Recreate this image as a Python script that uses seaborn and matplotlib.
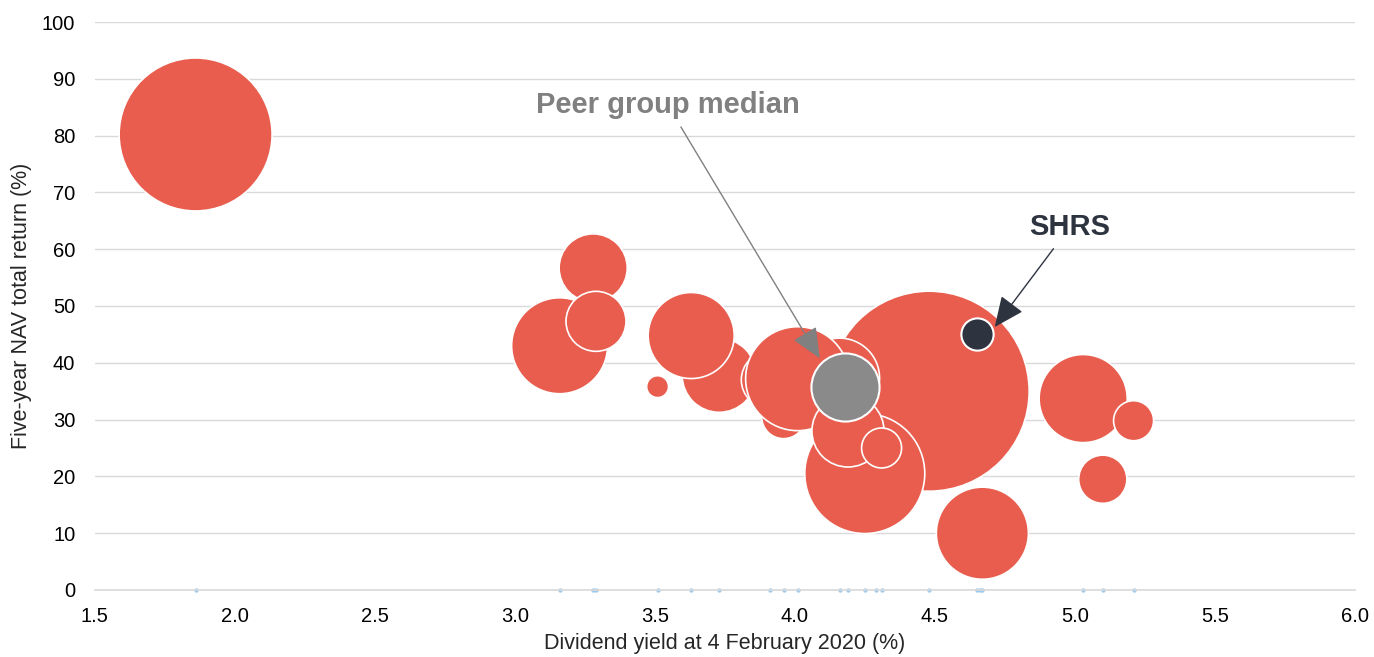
import numpy as np
import pandas as pd
import matplotlib
matplotlib.use('Agg')
import matplotlib.pyplot as plt
import seaborn as sns

# Peer group: dividend yield (%), five-year NAV total return (%), net assets (bubble size)
peer_yield = [1.86, 3.28, 3.16, 3.29, 3.51, 3.73, 3.63, 3.91, 4.29, 4.66, 4.48,
              3.96, 4.16, 4.01, 4.25, 4.19, 4.31, 4.67, 5.03, 5.21, 5.10]
peer_return = [80.2, 56.7, 43.0, 47.3, 35.8, 37.8, 44.8, 37.0, 30.0, 38.0, 35.0,
               30.5, 37.3, 37.2, 20.5, 28.0, 25.0, 10.0, 33.7, 29.8, 19.5]
peer_assets = [585, 116, 230, 90, 12, 137, 185, 80, 60, 50, 1000,
               48, 160, 270, 360, 130, 40, 212, 194, 40, 58]

median_yield = [4.18]
median_return = [35.8]
median_assets = [116]

shrs_yield = [4.65]
shrs_return = [45.0]
shrs_assets = [26]

all_yields = peer_yield + shrs_yield

peers = pd.DataFrame({'yield': peer_yield, 'ret': peer_return, 'assets': peer_assets})
median = pd.DataFrame({'yield': median_yield, 'ret': median_return, 'assets': median_assets})
shrs = pd.DataFrame({'yield': shrs_yield, 'ret': shrs_return, 'assets': shrs_assets})
axis_pts = pd.DataFrame({'yield': all_yields, 'ret': [0] * len(all_yields)})

sns.set_style('white')
plt.rcParams['font.family'] = ['Liberation Sans', 'DejaVu Sans']

fig = plt.figure(figsize=(13.74, 6.57), dpi=100)
ax = fig.add_axes([0.069, 0.102, 0.917, 0.8645])

size_kw = dict(size='assets', sizes=(0, 20736), size_norm=(0, 1000), legend=False)

sns.scatterplot(data=peers, x='yield', y='ret', color='#E85D4E', edgecolor='white',
                linewidth=1.2, ax=ax, zorder=3, **size_kw)
sns.scatterplot(data=median, x='yield', y='ret', color='#8A8A8A', edgecolor='white',
                linewidth=1.5, ax=ax, zorder=4, **size_kw)
sns.scatterplot(data=shrs, x='yield', y='ret', color='#2D3440', edgecolor='white',
                linewidth=1.5, ax=ax, zorder=5, **size_kw)
sns.scatterplot(data=axis_pts, x='yield', y='ret', color='#9DCBEF', s=10, linewidth=0,
                ax=ax, zorder=2, clip_on=False, legend=False)

ax.set_xlim(1.5, 6.0)
ax.set_ylim(0, 100)
ax.set_xticks(np.arange(1.5, 6.01, 0.5))
ax.set_xticklabels([f'{v:.1f}' for v in np.arange(1.5, 6.01, 0.5)])
ax.set_yticks(range(0, 101, 10))
ax.yaxis.grid(True, color='#D9D9D9', linewidth=1)
ax.set_axisbelow(True)
for side in ['top', 'right', 'left']:
    ax.spines[side].set_visible(False)
ax.spines['bottom'].set_color('#D9D9D9')
ax.spines['bottom'].set_linewidth(1.2)
ax.tick_params(axis='both', length=0, labelsize=14.5, colors='#000000')
ax.tick_params(axis='x', pad=12)
ax.tick_params(axis='y', pad=14)

ax.set_xlabel('Dividend yield at 4 February 2020 (%)', fontsize=15.5, labelpad=5)
ax.set_ylabel('Five-year NAV total return (%)', fontsize=15.5, labelpad=7)

ax.annotate('Peer group median', xy=(4.089, 40.8), xytext=(3.546, 85.4),
            ha='center', va='center', fontsize=21, fontweight='bold', color='#808080',
            arrowprops=dict(arrowstyle='-|>,head_length=0.9,head_width=0.4',
                            color='#808080', lw=1, shrinkA=4, shrinkB=0), zorder=6)
ax.annotate('SHRS', xy=(4.714, 46.3), xytext=(4.982, 63.9),
            ha='center', va='center', fontsize=21, fontweight='bold', color='#2D3440',
            arrowprops=dict(arrowstyle='-|>,head_length=0.9,head_width=0.4',
                            color='#2D3440', lw=1, shrinkA=4, shrinkB=0), zorder=6)

fig.savefig('out.png', dpi=100)
